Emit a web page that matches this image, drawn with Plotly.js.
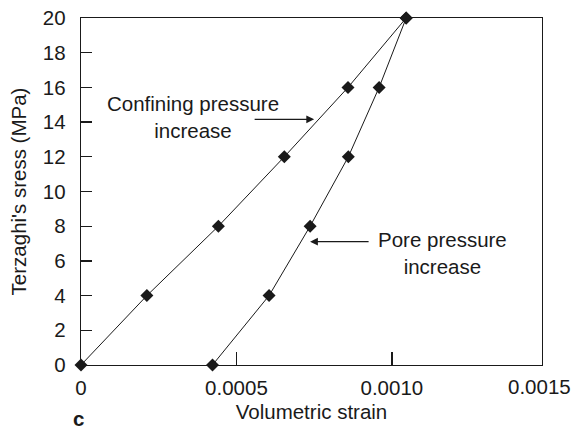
<!DOCTYPE html>
<html>
<head>
<meta charset="utf-8">
<script src="https://cdn.plot.ly/plotly-3.0.1.min.js"></script>
<style>html,body{margin:0;padding:0;background:#fff;}#chart{width:577px;height:432px;}</style>
</head>
<body>
<div id="chart"></div>
<script>
// Terzaghi's stress (MPa) levels
const stress = [0, 4, 8, 12, 16, 20];
// Volumetric strain, confining pressure increase
const strainConfining = [0, 0.000212, 0.000442, 0.000654, 0.000859, 0.001046];
// Volumetric strain, pore pressure increase
const strainPore = [0.000423, 0.000605, 0.000737, 0.00086, 0.000959, 0.001046];
const xTickVals = [0, 0.0005, 0.0010];
const xTickText = ['0', '0.0005', '0.0010'];
const yTickVals = [0, 2, 4, 6, 8, 10, 12, 14, 16, 18, 20];

const FONT = 'Liberation Sans, Arial, Helvetica, sans-serif';
const FS = 20.5;
const INK = '#1a1a1a';

const lineStyle = {color: INK, width: 1};
const markerStyle = {symbol: 'diamond', size: 10, color: INK};

const data = [
  {x: strainConfining, y: stress, mode: 'lines+markers', line: lineStyle, marker: markerStyle, cliponaxis: false, hoverinfo: 'x+y'},
  {x: strainPore, y: stress, mode: 'lines+markers', line: lineStyle, marker: markerStyle, cliponaxis: false, hoverinfo: 'x+y'}
];

const layout = {
  width: 577, height: 432,
  margin: {l: 81, r: 35, t: 18, b: 67},
  paper_bgcolor: '#fff', plot_bgcolor: '#fff',
  showlegend: false,
  font: {family: FONT, size: FS, color: INK},
  xaxis: {
    range: [0, 0.001483],
    tickvals: xTickVals, ticktext: xTickText,
    ticks: 'inside', ticklen: 13, tickwidth: 1.3, tickcolor: INK,
    showline: true, linecolor: INK, linewidth: 1.3, mirror: true,
    showgrid: false, zeroline: false,
    ticklabelstandoff: 4,
    tickfont: {family: FONT, size: FS, color: INK},
    title: {text: 'Volumetric strain', font: {family: FONT, size: FS, color: INK}, standoff: 6}
  },
  yaxis: {
    range: [0, 20],
    tickvals: yTickVals,
    ticks: 'inside', ticklen: 11, tickwidth: 1.3, tickcolor: INK,
    showline: true, linecolor: INK, linewidth: 1.3, mirror: true,
    showgrid: false, zeroline: false,
    ticklabelstandoff: 10,
    tickfont: {family: FONT, size: FS, color: INK},
    title: {text: "Terzaghi's sress (MPa)", font: {family: FONT, size: FS, color: INK}, standoff: 10}
  },
  annotations: [
    {xref: 'paper', yref: 'paper', x: 1.0, y: 0, xshift: 31, yshift: -21, text: '0.0015', showarrow: false,
     xanchor: 'right', yanchor: 'middle', font: {family: FONT, size: FS, color: INK}},
    {xref: 'paper', yref: 'paper', x: 0.242, y: 0.716, text: 'Confining pressure<br>increase', showarrow: false,
     xanchor: 'center', yanchor: 'middle', align: 'center', font: {family: FONT, size: FS, color: INK}},
    {xref: 'x', yref: 'y', x: 0.00075, y: 14.16, ax: -61, ay: 0, text: '', showarrow: true,
     arrowhead: 2, arrowsize: 1.2, arrowwidth: 1.3, arrowcolor: INK},
    {xref: 'paper', yref: 'paper', x: 0.785, y: 0.323, text: 'Pore pressure<br>increase', showarrow: false,
     xanchor: 'center', yanchor: 'middle', align: 'center', font: {family: FONT, size: FS, color: INK}},
    {xref: 'x', yref: 'y', x: 0.000737, y: 7.11, ax: 60, ay: 0, text: '', showarrow: true,
     arrowhead: 2, arrowsize: 1.2, arrowwidth: 1.3, arrowcolor: INK},
    {xref: 'paper', yref: 'paper', x: -0.0065, y: -0.153, text: '<b>c</b>', showarrow: false,
     xanchor: 'center', yanchor: 'middle', font: {family: FONT, size: FS, color: INK}}
  ]
};

Plotly.newPlot('chart', data, layout, {staticPlot: true, displayModeBar: false});
</script>
</body>
</html>
